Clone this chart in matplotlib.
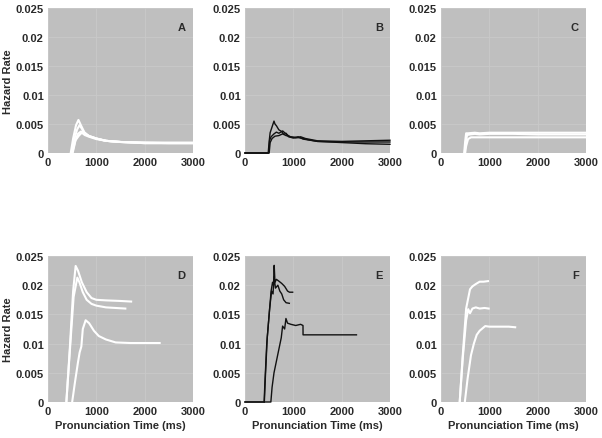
import matplotlib
matplotlib.use("Agg")
import matplotlib.pyplot as plt

plt.rcParams['font.family'] = ['Liberation Sans', 'DejaVu Sans']
plt.rcParams['font.weight'] = 'bold'

# ---------------- data ----------------
# Panel A (white)
a1_x = [470, 520, 580, 630, 680, 750, 850, 1000, 1200, 1500, 2000, 2500, 3000]
a1_y = [0, 0.0025, 0.0048, 0.0057, 0.0048, 0.0036, 0.0029, 0.0025, 0.0021, 0.0019, 0.0018, 0.0018, 0.0018]
a2_x = [490, 540, 600, 650, 700, 760, 850, 1000, 1200, 1500, 2000, 2500, 3000]
a2_y = [0, 0.0022, 0.0040, 0.0048, 0.0042, 0.0034, 0.0029, 0.0025, 0.0021, 0.0019, 0.0018, 0.0017, 0.0017]
a3_x = [500, 560, 620, 680, 730, 800, 900, 1000, 1200, 1500, 2000, 2500, 3000]
a3_y = [0, 0.0020, 0.0033, 0.0037, 0.0036, 0.0031, 0.0028, 0.0025, 0.0021, 0.0019, 0.0017, 0.0017, 0.0017]
a4_x = [510, 570, 640, 700, 760, 850, 1000, 1200, 1500, 2000, 2500, 3000]
a4_y = [0, 0.0022, 0.0030, 0.0035, 0.0031, 0.0028, 0.0024, 0.0021, 0.0019, 0.0017, 0.0017, 0.0017]

# Panel B (black)
b1_x = [0, 480, 500, 520, 560, 600, 620, 650, 700, 760, 800, 850, 900, 1000, 1100, 1200, 1500, 2000, 2500, 3000]
b1_y = [0, 0, 0.0020, 0.0035, 0.0045, 0.0055, 0.0050, 0.0047, 0.0040, 0.0037, 0.0032, 0.0034, 0.0028, 0.0026, 0.0028, 0.0024, 0.0020, 0.0018, 0.0016, 0.0015]
b2_x = [0, 490, 510, 540, 600, 650, 700, 780, 820, 880, 950, 1050, 1150, 1250, 1500, 2000, 2500, 3000]
b2_y = [0, 0, 0.0022, 0.0028, 0.0033, 0.0036, 0.0034, 0.0038, 0.0035, 0.0031, 0.0027, 0.0026, 0.0028, 0.0025, 0.0021, 0.0020, 0.0021, 0.0022]
b3_x = [0, 500, 520, 560, 620, 700, 780, 850, 950, 1050, 1150, 1300, 1500, 2000, 2500, 3000]
b3_y = [0, 0, 0.0018, 0.0025, 0.0029, 0.0030, 0.0033, 0.0030, 0.0028, 0.0027, 0.0026, 0.0023, 0.0020, 0.0019, 0.0019, 0.0019]

# Panel C (white)
c1_x = [480, 500, 520, 560, 700, 800, 1000, 1500, 2000, 3000]
c1_y = [0, 0.0020, 0.0034, 0.0034, 0.0035, 0.0034, 0.0035, 0.0035, 0.0035, 0.0035]
c2_x = [490, 510, 540, 600, 700, 800, 1000, 1500, 2000, 3000]
c2_y = [0, 0.0018, 0.0031, 0.0032, 0.0033, 0.0032, 0.0033, 0.0033, 0.0032, 0.0032]
c3_x = [500, 520, 560, 620, 700, 1000, 1500, 2000, 3000]
c3_y = [0, 0.0012, 0.0024, 0.0027, 0.0027, 0.0027, 0.0027, 0.0027, 0.0027]

# Panel D (white)
d1_x = [380, 450, 520, 572, 620, 700, 800, 900, 1000, 1200, 1500, 1720]
d1_y = [0, 0.0090, 0.0190, 0.0233, 0.0225, 0.0205, 0.0188, 0.0178, 0.0175, 0.0174, 0.0173, 0.0172]
d2_x = [380, 450, 530, 607, 650, 720, 800, 900, 1000, 1200, 1400, 1600]
d2_y = [0, 0.0085, 0.0180, 0.0213, 0.0205, 0.0188, 0.0175, 0.0168, 0.0165, 0.0162, 0.0161, 0.0160]
d3_x = [500, 560, 620, 655, 690, 720, 779, 850, 950, 1050, 1200, 1400, 1700, 2000, 2310]
d3_y = [0, 0.0035, 0.0068, 0.0085, 0.0095, 0.0125, 0.0140, 0.0135, 0.0122, 0.0113, 0.0107, 0.0102, 0.0101, 0.0101, 0.0101]

# Panel E (black)
e1_x = [0, 396, 410, 450, 500, 540, 570, 590, 604, 620, 650, 700, 760, 820, 880, 920, 986]
e1_y = [0, 0, 0.0030, 0.0100, 0.0150, 0.0190, 0.0205, 0.0200, 0.0234, 0.0205, 0.0210, 0.0207, 0.0203, 0.0198, 0.0190, 0.0188, 0.0188]
e2_x = [400, 420, 460, 510, 550, 580, 600, 630, 680, 720, 760, 800, 850, 917]
e2_y = [0, 0.0040, 0.0110, 0.0160, 0.0190, 0.0185, 0.0215, 0.0195, 0.0200, 0.0190, 0.0185, 0.0175, 0.0170, 0.0169]
e3_x = [0, 535, 560, 600, 650, 700, 750, 778, 820, 847, 880, 950, 1050, 1150, 1200, 1201, 1500, 2000, 2306]
e3_y = [0, 0, 0.0025, 0.0050, 0.0070, 0.0090, 0.0110, 0.0130, 0.0125, 0.0143, 0.0135, 0.0133, 0.0131, 0.0133, 0.0131, 0.0115, 0.0115, 0.0115, 0.0115]

# Panel F (white)
f1_x = [387, 450, 520, 600, 650, 720, 800, 880, 972]
f1_y = [0, 0.0080, 0.0160, 0.0193, 0.0198, 0.0202, 0.0206, 0.0206, 0.0207]
f2_x = [387, 450, 520, 563, 600, 650, 720, 800, 900, 986]
f2_y = [0, 0.0075, 0.0140, 0.0159, 0.0152, 0.0160, 0.0162, 0.0160, 0.0161, 0.0160]
f3_x = [493, 550, 620, 680, 739, 800, 915, 1000, 1200, 1400, 1535]
f3_y = [0, 0.0040, 0.0080, 0.0100, 0.0115, 0.0122, 0.0130, 0.0129, 0.0129, 0.0129, 0.0128]

panels = [
    ("A", "white", [(a1_x, a1_y), (a2_x, a2_y), (a3_x, a3_y), (a4_x, a4_y)]),
    ("B", "black", [(b1_x, b1_y), (b2_x, b2_y), (b3_x, b3_y)]),
    ("C", "white", [(c1_x, c1_y), (c2_x, c2_y), (c3_x, c3_y)]),
    ("D", "white", [(d1_x, d1_y), (d2_x, d2_y), (d3_x, d3_y)]),
    ("E", "black", [(e1_x, e1_y), (e2_x, e2_y), (e3_x, e3_y)]),
    ("F", "white", [(f1_x, f1_y), (f2_x, f2_y), (f3_x, f3_y)]),
]

x_ticks = [0, 1000, 2000, 3000]
y_ticks = [0, 0.005, 0.01, 0.015, 0.02, 0.025]
y_tick_labels = ["0", "0.005", "0.01", "0.015", "0.02", "0.025"]
x_tick_labels = ["0", "1000", "2000", "3000"]

fig = plt.figure(figsize=(6.02, 4.39), dpi=100)
lefts = [48 / 602, 245 / 602, 441 / 602]
w = 145 / 602
h_top = 145 / 439
b_top = (439 - 154) / 439
b_bot = (439 - 403) / 439
h_bot = 146 / 439
txt = "#2a2a2a"

for i, (letter, color, curves) in enumerate(panels):
    row, col = divmod(i, 3)
    bottom = b_top if row == 0 else b_bot
    h = h_top if row == 0 else h_bot
    ax = fig.add_axes([lefts[col], bottom, w, h])
    ax.set_facecolor("#bfbfbf")
    ax.set_xlim(0, 3000)
    ax.set_ylim(0, 0.025)
    ax.set_xticks(x_ticks)
    ax.set_xticklabels(x_tick_labels)
    ax.set_yticks(y_ticks)
    ax.set_yticklabels(y_tick_labels)
    ax.grid(True, color="#c9c9c9", linewidth=0.6)
    ax.set_axisbelow(True)
    for s in ax.spines.values():
        s.set_visible(False)
    ax.tick_params(length=0, labelsize=8, pad=3, colors=txt)
    lw = 1.5 if color == "white" else 1.0
    for xs, ys in curves:
        ax.plot(xs, ys, color=color if color == "white" else "#111111", lw=lw, clip_on=False)
    ax.text(0.95, 0.87, letter, transform=ax.transAxes, ha="right", va="center",
            fontsize=8, fontweight="bold", color=txt)
    if col == 0:
        ax.set_ylabel("Hazard Rate", fontsize=8, fontweight="bold", color=txt, labelpad=2)
    if row == 1:
        ax.set_xlabel("Pronunciation Time (ms)", fontsize=8, fontweight="bold", color=txt, labelpad=3)

fig.savefig("out.png", dpi=100, facecolor="white")
